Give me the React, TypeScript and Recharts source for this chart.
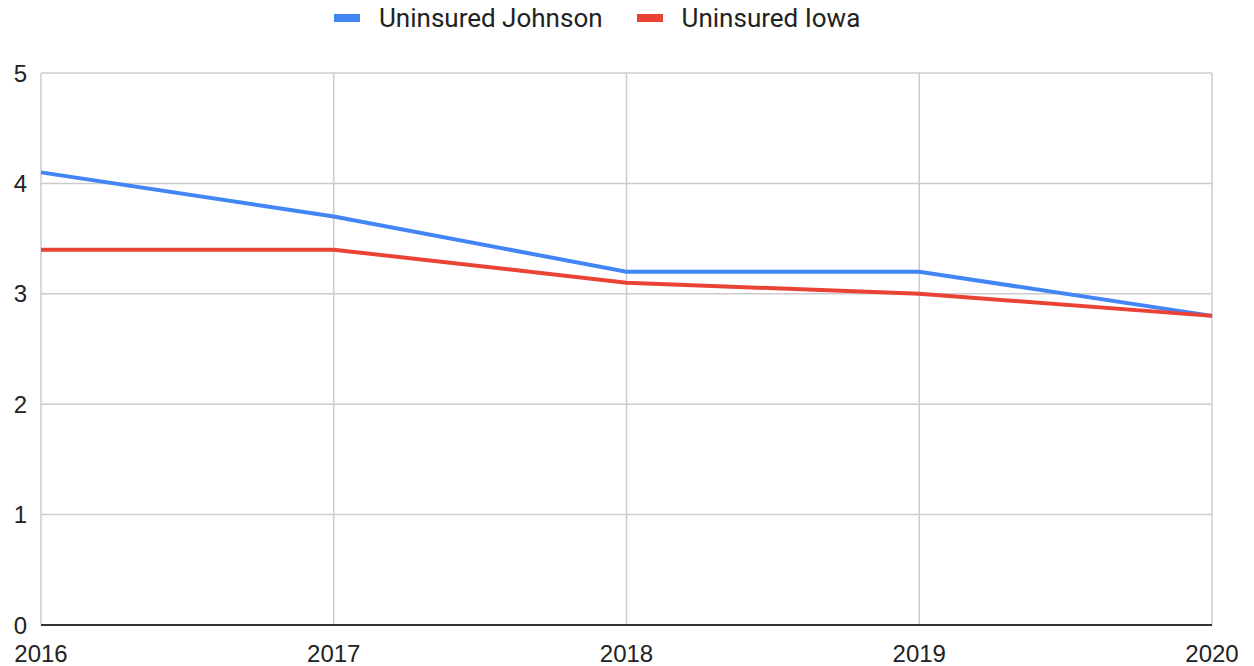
import React from "react";
import {
  LineChart,
  Line,
  XAxis,
  YAxis,
  CartesianGrid
} from "recharts";

// years along the x axis
const years = ["2016", "2017", "2018", "2019", "2020"];

// uninsured rate (%) per year
const johnsonValues = [4.1, 3.7, 3.2, 3.2, 2.8];
const iowaValues = [3.4, 3.4, 3.1, 3.0, 2.8];

const yTicks = [0, 1, 2, 3, 4, 5];

const series = [
  { key: "johnson", label: "Uninsured Johnson", color: "#4285F4" },
  { key: "iowa", label: "Uninsured Iowa", color: "#EA4335" }
];

const data = years.map((year, i) => ({
  year,
  johnson: johnsonValues[i],
  iowa: iowaValues[i]
}));

const tickStyle = { fill: "#222", fontSize: 24, fontFamily: "Arial, 'Liberation Sans', sans-serif" };

const App: React.FC = () => {
  return (
    <div style={{ position: "absolute", top: 0, left: 0, width: 1254, height: 666, background: "#fff" }}>
      {/* Legend */}
      <div
        style={{
          position: "absolute",
          top: 3,
          left: 334,
          display: "flex",
          alignItems: "center",
          fontFamily: "Roboto, sans-serif",
          fontSize: 26,
          color: "#222",
          whiteSpace: "nowrap"
        }}
      >
        {series.map((s, i) => (
          <div key={s.key} style={{ display: "flex", alignItems: "center", marginRight: i === 0 ? 34 : 0 }}>
            <span style={{ display: "inline-block", width: 26, height: 8, background: s.color, marginRight: 19 }} />
            <span>{s.label}</span>
          </div>
        ))}
      </div>

      {/* Chart */}
      <LineChart
        width={1254}
        height={666}
        data={data}
        margin={{ top: 73, right: 42, bottom: 11, left: 0 }}
      >
        <CartesianGrid stroke="#cccccc" strokeWidth={1.5} />
        <XAxis
          dataKey="year"
          height={30}
          tickLine={false}
          tickSize={0}
          tickMargin={20}
          axisLine={{ stroke: "#333", strokeWidth: 2 }}
          tick={tickStyle}
          interval={0}
        />
        <YAxis
          width={41}
          domain={[0, 5]}
          ticks={yTicks}
          axisLine={false}
          tickLine={false}
          tickSize={0}
          tickMargin={14}
          tick={tickStyle}
        />
        {series.map((s) => (
          <Line
            key={s.key}
            type="linear"
            dataKey={s.key}
            name={s.label}
            stroke={s.color}
            strokeWidth={4}
            dot={false}
            activeDot={false}
            isAnimationActive={false}
          />
        ))}
      </LineChart>
    </div>
  );
};

export default App;
